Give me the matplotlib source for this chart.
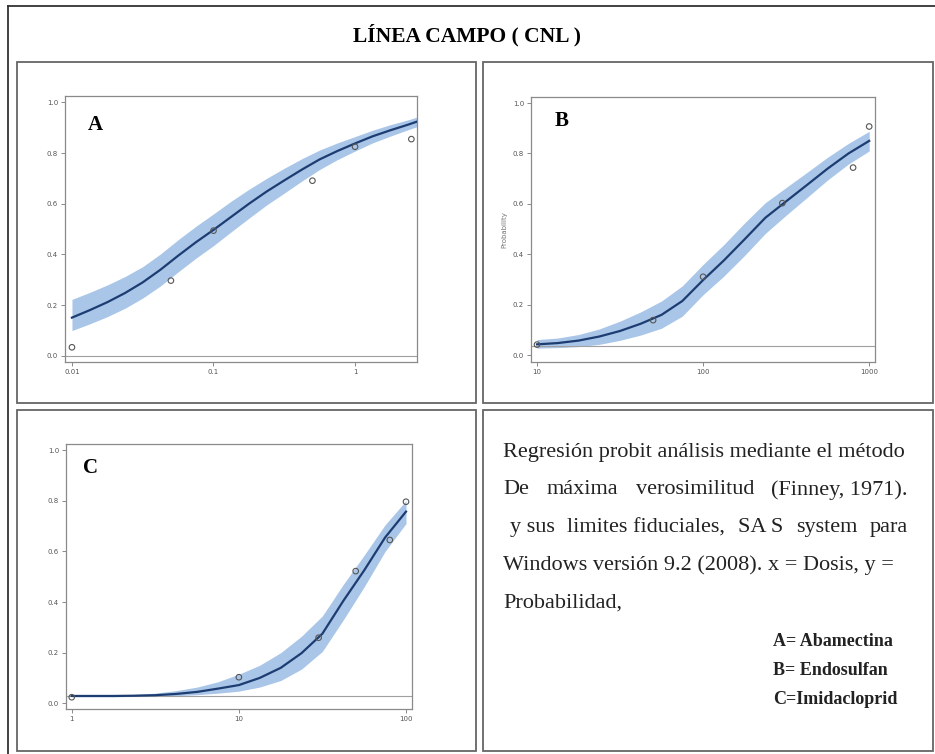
import matplotlib
matplotlib.use("Agg")
import matplotlib.pyplot as plt
from matplotlib.patches import Rectangle
from matplotlib.lines import Line2D

W, H = 935, 754

# ---- panel A: Abamectina (observed points + probit fit with fiducial band)
a_dose = [0.01, 0.05, 0.1, 0.5, 1.0, 2.5]
a_prob = [0.034, 0.297, 0.494, 0.691, 0.825, 0.855]
a_x = [0.01, 0.0133, 0.0178, 0.0237, 0.0316, 0.0422, 0.0562, 0.075, 0.1, 0.133, 0.178,
       0.237, 0.316, 0.422, 0.562, 0.75, 1.0, 1.33, 1.78, 2.37, 2.74]
a_fit = [0.151, 0.180, 0.212, 0.248, 0.290, 0.340, 0.395, 0.448, 0.497, 0.548, 0.600,
         0.648, 0.692, 0.735, 0.775, 0.808, 0.838, 0.866, 0.890, 0.912, 0.924]
a_lo = [0.100, 0.126, 0.155, 0.188, 0.228, 0.276, 0.331, 0.385, 0.435, 0.489, 0.543,
        0.595, 0.642, 0.690, 0.735, 0.774, 0.808, 0.840, 0.867, 0.892, 0.904]
a_hi = [0.223, 0.250, 0.280, 0.313, 0.352, 0.402, 0.458, 0.511, 0.560, 0.610, 0.657,
        0.700, 0.740, 0.778, 0.812, 0.840, 0.865, 0.890, 0.912, 0.931, 0.942]

# ---- panel B: Endosulfan
b_dose = [10, 50, 100, 300, 800, 1000]
b_prob = [0.042, 0.139, 0.311, 0.603, 0.744, 0.907]
b_x = [10, 13.3, 17.8, 23.7, 31.6, 42.2, 56.2, 75, 100, 133, 178, 237, 316, 422, 562, 750, 1000]
b_fit = [0.043, 0.048, 0.058, 0.074, 0.096, 0.125, 0.160, 0.215, 0.298, 0.375, 0.460,
         0.545, 0.610, 0.675, 0.740, 0.800, 0.850]
b_lo = [0.028, 0.030, 0.034, 0.043, 0.059, 0.080, 0.107, 0.155, 0.240, 0.313, 0.396,
        0.483, 0.555, 0.625, 0.695, 0.758, 0.810]
b_hi = [0.062, 0.068, 0.082, 0.104, 0.135, 0.172, 0.215, 0.275, 0.360, 0.438, 0.525,
        0.605, 0.665, 0.725, 0.785, 0.840, 0.888]

# ---- panel C: Imidacloprid
c_dose = [1, 10, 30, 50, 80, 100]
c_prob = [0.024, 0.103, 0.259, 0.522, 0.645, 0.796]
c_x = [1, 1.33, 1.78, 2.37, 3.16, 4.22, 5.62, 7.5, 10, 13.3, 17.8, 23.7, 31.6, 42.2, 56.2, 75, 100]
c_fit = [0.029, 0.029, 0.029, 0.030, 0.032, 0.037, 0.045, 0.058, 0.072, 0.100, 0.140,
         0.198, 0.275, 0.405, 0.525, 0.655, 0.757]
c_lo = [0.026, 0.026, 0.026, 0.027, 0.028, 0.030, 0.034, 0.040, 0.048, 0.064, 0.090,
        0.135, 0.205, 0.330, 0.460, 0.600, 0.710]
c_hi = [0.032, 0.032, 0.033, 0.035, 0.040, 0.050, 0.064, 0.085, 0.115, 0.150, 0.200,
        0.265, 0.345, 0.470, 0.585, 0.705, 0.800]

y_ticks = [0.0, 0.2, 0.4, 0.6, 0.8, 1.0]
y_labels = ["0.0", "0.2", "0.4", "0.6", "0.8", "1.0"]

title = "LÍNEA CAMPO ( CNL )"
note_lines = [
    ["Regresión probit análisis mediante el método"],
    ["De", "máxima", "verosimilitud", "(Finney, 1971)."],
    ["y sus", "limites fiduciales,", "SA S", "system", "para"],
    ["Windows versión 9.2 (2008). x = Dosis, y ="],
    ["Probabilidad,"],
]
legend_lines = ["A= Abamectina", "B= Endosulfan", "C=Imidacloprid"]

SERIF = "Liberation Serif"


def fx(x):
    return x / W


def fy(y):
    return 1 - y / H


def add_box(fig, x0, y0, x1, y1):
    fig.add_artist(Rectangle((fx(x0), fy(y1)), fx(x1) - fx(x0), fy(y0) - fy(y1),
                             transform=fig.transFigure, fill=False,
                             edgecolor="#666666", lw=1.3))


def px_axes(fig, left, top, right, bottom):
    return fig.add_axes([fx(left), fy(bottom), fx(right) - fx(left), fy(top) - fy(bottom)])


def draw_panel(ax, dose, prob, cx, fit, lo, hi, ref, xlim, ylim, xticks, xlabels):
    ax.fill_between(cx, lo, hi, color="#a9c6e8", lw=0, zorder=1)
    ax.axhline(ref, color="#a0a0a0", lw=0.8, zorder=2)
    ax.plot(cx, fit, color="#1d3d72", lw=1.6, zorder=3)
    ax.scatter(dose, prob, s=16, facecolors="none", edgecolors="#555555", lw=0.8, zorder=4)
    ax.set_xscale("log")
    ax.set_xlim(*xlim)
    ax.set_ylim(*ylim)
    ax.set_xticks(xticks)
    ax.set_xticklabels(xlabels)
    ax.minorticks_off()
    ax.set_yticks(y_ticks)
    ax.set_yticklabels(y_labels)
    ax.tick_params(length=3, width=0.6, color="#777777", labelsize=5,
                   labelcolor="#555555", pad=2)
    for sp in ax.spines.values():
        sp.set_color("#8a8a8a")
        sp.set_linewidth(0.9)


def text_line(fig, words, x0, x1, y, **kw):
    # one word list -> plain left aligned; several -> spread to fill x0..x1
    if len(words) == 1:
        fig.text(fx(x0), fy(y), words[0], ha="left", va="center", **kw)
        return
    renderer = fig.canvas.get_renderer()
    items = [fig.text(0, fy(y), w, ha="left", va="center", **kw) for w in words]
    widths = [t.get_window_extent(renderer).width for t in items]
    gap = (x1 - x0 - sum(widths)) / (len(words) - 1)
    x = x0
    for t, w in zip(items, widths):
        t.set_x(fx(x))
        x += w + gap


fig = plt.figure(figsize=(W / 100, H / 100), dpi=100)
fig.patch.set_facecolor("white")

# table frame
fig.add_artist(Line2D([fx(8), fx(8)], [fy(6), fy(754)], transform=fig.transFigure,
                      color="#333333", lw=1.3))
fig.add_artist(Line2D([fx(8), fx(935)], [fy(6), fy(6)], transform=fig.transFigure,
                      color="#333333", lw=1.3))
add_box(fig, 17, 62, 476, 403)
add_box(fig, 483, 62, 933, 403)
add_box(fig, 17, 410, 476, 751)
add_box(fig, 483, 410, 933, 751)

fig.text(fx(467), fy(35), title, ha="center", va="center", fontsize=15.5,
         fontweight="bold", family=SERIF)

ax_a = px_axes(fig, 65, 96, 417, 362)
draw_panel(ax_a, a_dose, a_prob, a_x, a_fit, a_lo, a_hi, 0.0,
           (0.00893, 2.74), (-0.024, 1.025), [0.01, 0.1, 1], ["0.01", "0.1", "1"])

ax_b = px_axes(fig, 531, 97, 875, 362)
draw_panel(ax_b, b_dose, b_prob, b_x, b_fit, b_lo, b_hi, 0.035,
           (9.2, 1084), (-0.027, 1.024), [10, 100, 1000], ["10", "100", "1000"])
ax_b.set_ylabel("Probability", fontsize=5, color="#777777", labelpad=4)

ax_c = px_axes(fig, 66, 444, 412, 709)
draw_panel(ax_c, c_dose, c_prob, c_x, c_fit, c_lo, c_hi, 0.029,
           (0.924, 108.6), (-0.0225, 1.024), [1, 10, 100], ["1", "10", "100"])

for letter, (lx, ly) in zip("ABC", [(95, 125), (562, 121), (91, 468)]):
    fig.text(fx(lx), fy(ly), letter, ha="center", va="center", fontsize=15,
             fontweight="bold", family=SERIF)

starts = [503, 503, 510, 503, 503]
for i, words in enumerate(note_lines):
    text_line(fig, words, starts[i], 908, 452 + i * 37.8,
              fontsize=16, family=SERIF, color="#222222")

for i, line in enumerate(legend_lines):
    fig.text(fx(773), fy(642 + i * 28.5), line, ha="left", va="center",
             fontsize=13, fontweight="bold", family=SERIF, color="#222222")

fig.savefig("out.png", dpi=100, facecolor="white")
